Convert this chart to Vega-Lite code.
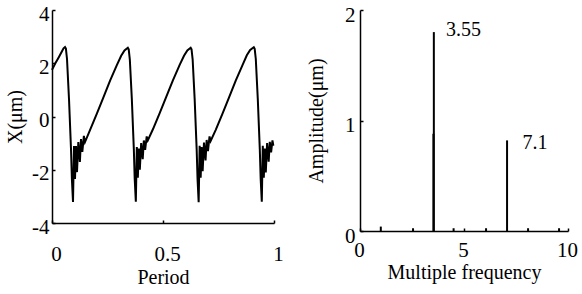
{
  "$schema": "https://vega.github.io/schema/vega-lite/v6.json",
  "padding": {"left": 5, "top": 3, "right": 0, "bottom": 0},
  "background": "white",
  "spacing": 22,
  "config": {
    "font": "Liberation Serif",
    "view": {"stroke": null},
    "axis": {
      "grid": false,
      "domainColor": "black",
      "domainWidth": 1.5,
      "tickColor": "black",
      "tickWidth": 1.5,
      "tickSize": -3,
      "labelFont": "Liberation Serif",
      "labelFontSize": 21,
      "labelColor": "black",
      "labelFlush": false,
      "titleFont": "Liberation Serif",
      "titleFontSize": 20,
      "titleFontWeight": "normal",
      "titleColor": "black",
      "labelExpr": "'' + datum.value"
    }
  },
  "datasets": {
    "wave": [
      {"t": 0, "x": 1.75}, {"t": 0.015, "x": 2.0}, {"t": 0.03, "x": 2.22}, {"t": 0.045, "x": 2.45}, {"t": 0.052, "x": 2.56},
      {"t": 0.0586, "x": 2.61}, {"t": 0.0626, "x": 2.55}, {"t": 0.0676, "x": 2.16}, {"t": 0.0766, "x": 0.66}, {"t": 0.0856, "x": -1.22},
      {"t": 0.0896, "x": -2.35}, {"t": 0.0946, "x": -3.21}, {"t": 0.0991, "x": -1.11}, {"t": 0.1036, "x": -2.35}, {"t": 0.1081, "x": -1.11},
      {"t": 0.1126, "x": -2.09}, {"t": 0.1186, "x": -0.96}, {"t": 0.1256, "x": -1.71}, {"t": 0.1306, "x": -0.85}, {"t": 0.1366, "x": -1.33},
      {"t": 0.1436, "x": -0.73}, {"t": 0.1486, "x": -0.96},
      {"t": 0.1716, "x": -0.5}, {"t": 0.2016, "x": 0.1}, {"t": 0.2316, "x": 0.72}, {"t": 0.2616, "x": 1.35}, {"t": 0.2916, "x": 1.92},
      {"t": 0.3116, "x": 2.28}, {"t": 0.3266, "x": 2.48}, {"t": 0.3416, "x": 2.58},
      {"t": 0.3456, "x": 2.52}, {"t": 0.3506, "x": 2.14}, {"t": 0.3596, "x": 0.66}, {"t": 0.3686, "x": -1.22}, {"t": 0.3726, "x": -2.35},
      {"t": 0.3776, "x": -3.2}, {"t": 0.3821, "x": -1.15}, {"t": 0.3866, "x": -2.3}, {"t": 0.3911, "x": -1.2}, {"t": 0.3956, "x": -2.0},
      {"t": 0.4016, "x": -1.0}, {"t": 0.4086, "x": -1.6}, {"t": 0.4136, "x": -0.9}, {"t": 0.4196, "x": -1.25}, {"t": 0.4266, "x": -0.75},
      {"t": 0.4316, "x": -0.9},
      {"t": 0.4546, "x": -0.48}, {"t": 0.4846, "x": 0.12}, {"t": 0.5146, "x": 0.74}, {"t": 0.5446, "x": 1.36}, {"t": 0.5746, "x": 1.93},
      {"t": 0.5946, "x": 2.28}, {"t": 0.6096, "x": 2.48}, {"t": 0.6246, "x": 2.58},
      {"t": 0.6286, "x": 2.52}, {"t": 0.6336, "x": 2.14}, {"t": 0.6426, "x": 0.66}, {"t": 0.6516, "x": -1.22}, {"t": 0.6556, "x": -2.35},
      {"t": 0.6606, "x": -3.22}, {"t": 0.6651, "x": -1.1}, {"t": 0.6696, "x": -2.3}, {"t": 0.6741, "x": -1.15}, {"t": 0.6786, "x": -2.05},
      {"t": 0.6846, "x": -0.98}, {"t": 0.6916, "x": -1.65}, {"t": 0.6966, "x": -0.88}, {"t": 0.7026, "x": -1.3}, {"t": 0.7096, "x": -0.75},
      {"t": 0.7146, "x": -0.92},
      {"t": 0.7376, "x": -0.5}, {"t": 0.7676, "x": 0.1}, {"t": 0.7976, "x": 0.72}, {"t": 0.8276, "x": 1.35}, {"t": 0.8576, "x": 1.92},
      {"t": 0.8776, "x": 2.3}, {"t": 0.8926, "x": 2.5}, {"t": 0.909, "x": 2.6},
      {"t": 0.913, "x": 2.54}, {"t": 0.918, "x": 2.16}, {"t": 0.927, "x": 0.66}, {"t": 0.936, "x": -1.22}, {"t": 0.94, "x": -2.35},
      {"t": 0.945, "x": -3.2}, {"t": 0.9495, "x": -1.1}, {"t": 0.954, "x": -2.3}, {"t": 0.9585, "x": -1.2}, {"t": 0.963, "x": -2.1},
      {"t": 0.969, "x": -1.0}, {"t": 0.976, "x": -1.7}, {"t": 0.981, "x": -0.95}, {"t": 0.987, "x": -1.35}, {"t": 0.993, "x": -0.9},
      {"t": 0.997, "x": -1.1}
    ],
    "spectrum": [
      {"f": 1.0, "a": 0.04},
      {"f": 2.55, "a": 0.025},
      {"f": 3.55, "a": 1.8},
      {"f": 3.53, "a": 0.88},
      {"f": 4.5, "a": 0.025},
      {"f": 6.06, "a": 0.025},
      {"f": 7.07, "a": 0.82},
      {"f": 8.08, "a": 0.025},
      {"f": 9.57, "a": 0.025}
    ],
    "peaks": [
      {"f": 4.98, "a": 1.82, "label": "3.55"},
      {"f": 8.41, "a": 0.8, "label": "7.1"}
    ]
  },
  "hconcat": [
    {
      "width": 222,
      "height": 213,
      "data": {"name": "wave"},
      "mark": {"type": "line", "color": "black", "strokeWidth": 2},
      "encoding": {
        "x": {"field": "t", "type": "quantitative", "scale": {"domain": [0, 1], "nice": false},
          "axis": {"title": "Period", "values": [0, 0.5, 1], "labelPadding": 23, "labelOffset": 4, "titlePadding": 3}},
        "y": {"field": "x", "type": "quantitative", "scale": {"domain": [-4, 4], "nice": false},
          "axis": {"title": "X(μm)", "values": [-4, -2, 0, 2, 4], "labelPadding": 6, "labelOffset": 4, "titlePadding": 6}}
      }
    },
    {
      "width": 208,
      "height": 221,
      "layer": [
        {
          "data": {"name": "spectrum"},
          "mark": {"type": "rule", "color": "black", "strokeWidth": 2},
          "encoding": {
            "x": {"field": "f", "type": "quantitative", "scale": {"domain": [0, 10], "nice": false},
              "axis": {"title": "Multiple frequency", "values": [0, 5, 10], "labelPadding": 11, "labelOffset": -1, "titlePadding": 2}},
            "y": {"field": "a", "type": "quantitative", "scale": {"domain": [0, 2], "nice": false},
              "axis": {"title": "Amplitude(μm)", "values": [0, 1, 2], "labelPadding": 8, "labelOffset": 5, "titlePadding": 18}},
            "y2": {"datum": 0}
          }
        },
        {
          "data": {"name": "peaks"},
          "mark": {"type": "text", "font": "Liberation Serif", "fontSize": 20, "color": "black", "align": "center", "baseline": "middle"},
          "encoding": {
            "x": {"field": "f", "type": "quantitative"},
            "y": {"field": "a", "type": "quantitative"},
            "text": {"field": "label"}
          }
        }
      ]
    }
  ]
}
